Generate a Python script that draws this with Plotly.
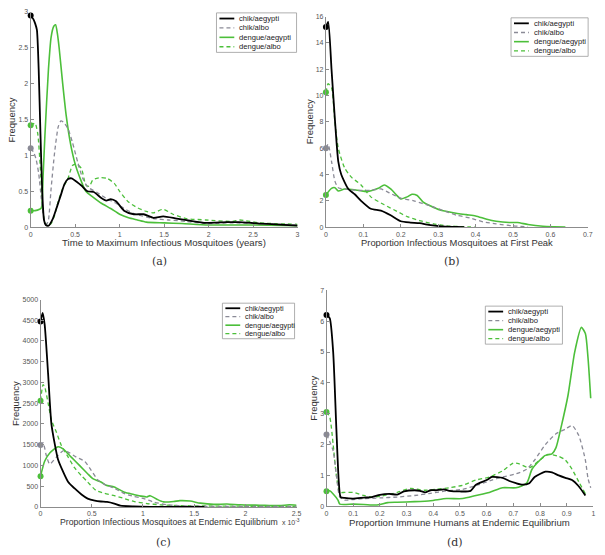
import plotly.graph_objects as go

W, H = 605, 555
OFF = 0  # page body margin is removed by the post script below

SERIES_NAMES = ["chik/aegypti", "chik/albo", "dengue/aegypti", "dengue/albo"]
SERIES_COLORS = ["#000000", "#8a8a96", "#4cbf3a", "#4cbf3a"]
SERIES_DASH = ["solid", "4px,3px", "solid", "4px,3px"]
SERIES_WIDTH = [1.8, 1.3, 1.6, 1.3]

# ---------------- Panel (a): time to maximum infectious mosquitoes (years)
a_chik_aeg_x = [0, 0.03, 0.05, 0.07, 0.09, 0.11, 0.13, 0.15, 0.17, 0.2, 0.25, 0.3, 0.34, 0.38, 0.42, 0.46, 0.52,
                0.57, 0.64, 0.71, 0.79, 0.85, 0.9, 0.96, 1.05, 1.16, 1.27, 1.38, 1.49, 1.64, 1.79, 1.97, 2.2,
                2.34, 2.57, 2.75, 3.0]
a_chik_aeg_y = [2.95, 2.9, 2.84, 2.75, 2.2, 1.3, 0.5, 0.1, 0.03, 0.02, 0.12, 0.3, 0.45, 0.6, 0.67, 0.68, 0.63,
                0.58, 0.5, 0.49, 0.41, 0.37, 0.39, 0.36, 0.23, 0.18, 0.18, 0.13, 0.15, 0.12, 0.09, 0.06, 0.07,
                0.07, 0.05, 0.04, 0.02]
a_chik_albo_x = [0, 0.03, 0.06, 0.09, 0.12, 0.15, 0.18, 0.2, 0.23, 0.27, 0.31, 0.34, 0.37, 0.42, 0.47, 0.53,
                 0.585, 0.64, 0.75, 0.85, 0.95, 1.05, 1.16, 1.38, 1.55, 1.75, 1.97, 2.25, 2.57, 3.0]
a_chik_albo_y = [1.1, 1.05, 0.95, 0.75, 0.4, 0.12, 0.04, 0.1, 0.54, 1.05, 1.4, 1.48, 1.46, 1.37, 1.18, 0.9,
                 0.68, 0.56, 0.48, 0.4, 0.34, 0.26, 0.19, 0.12, 0.1, 0.08, 0.05, 0.06, 0.05, 0.03]
a_deng_aeg_x = [0, 0.05, 0.1, 0.12, 0.14, 0.16, 0.2, 0.23, 0.26, 0.28, 0.3, 0.32, 0.36, 0.4, 0.45, 0.5, 0.55,
                0.62, 0.7, 0.8, 0.9, 1.0, 1.1, 1.2, 1.3, 1.5, 1.7, 2.0, 2.5, 3.0]
a_deng_aeg_y = [0.23, 0.23, 0.25, 0.27, 0.72, 1.27, 2.2, 2.65, 2.8, 2.82, 2.7, 2.5, 2.0, 1.55, 1.15, 0.88, 0.7,
                0.5, 0.42, 0.33, 0.26, 0.18, 0.13, 0.1, 0.07, 0.06, 0.05, 0.03, 0.03, 0.02]
a_deng_albo_x = [0, 0.03, 0.05, 0.08, 0.11, 0.14, 0.17, 0.2, 0.23, 0.27, 0.31, 0.36, 0.42, 0.47, 0.51, 0.57,
                 0.62, 0.66, 0.7, 0.79, 0.86, 0.94, 1.0, 1.1, 1.2, 1.3, 1.38, 1.49, 1.6, 1.75, 1.97, 2.27,
                 2.35, 2.57, 3.0]
a_deng_albo_y = [1.42, 1.44, 1.45, 1.3, 0.8, 0.2, 0.04, 0.02, 0.05, 0.17, 0.36, 0.54, 0.68, 0.86, 0.88, 0.82,
                 0.59, 0.57, 0.66, 0.69, 0.68, 0.61, 0.5, 0.35, 0.27, 0.22, 0.2, 0.25, 0.18, 0.12, 0.1, 0.08,
                 0.1, 0.06, 0.04]

# ---------------- Panel (b): proportion infectious mosquitoes at first peak
b_chik_aeg_x = [0, 0.006, 0.015, 0.024, 0.033, 0.041, 0.06, 0.077, 0.094, 0.12, 0.147, 0.173, 0.2, 0.226,
                0.25, 0.28, 0.31, 0.35, 0.37]
b_chik_aeg_y = [15.2, 15.6, 12.0, 8.2, 5.0, 4.0, 2.9, 2.5, 2.0, 1.4, 1.25, 0.9, 0.45, 0.35, 0.3, 0.15, 0.05,
                0.02, 0.0]
b_chik_albo_x = [0, 0.006, 0.015, 0.024, 0.033, 0.05, 0.085, 0.12, 0.147, 0.17, 0.2, 0.235, 0.28, 0.31, 0.35,
                 0.385, 0.42, 0.455, 0.5, 0.54]
b_chik_albo_y = [6.0, 6.3, 5.0, 3.5, 3.0, 2.9, 2.8, 2.8, 2.9, 2.6, 2.2, 2.0, 1.6, 1.3, 0.9, 0.7, 0.4, 0.25,
                 0.1, 0.02]
b_deng_aeg_x = [0, 0.015, 0.024, 0.033, 0.05, 0.085, 0.11, 0.14, 0.156, 0.173, 0.19, 0.2, 0.217, 0.23, 0.244,
                0.26, 0.28, 0.305, 0.34, 0.375, 0.4, 0.43, 0.455, 0.49, 0.512, 0.54, 0.58, 0.61, 0.64]
b_deng_aeg_y = [2.45, 2.95, 3.0, 2.75, 2.9, 2.8, 2.7, 2.95, 3.2, 2.9, 2.4, 2.15, 2.3, 2.5, 2.4, 1.9, 1.6, 1.3,
                1.1, 0.95, 0.85, 0.6, 0.45, 0.35, 0.35, 0.2, 0.07, 0.03, 0.0]
b_deng_albo_x = [0, 0.006, 0.015, 0.024, 0.033, 0.05, 0.068, 0.094, 0.12, 0.156, 0.19, 0.217, 0.25, 0.288,
                 0.323, 0.367, 0.4]
b_deng_albo_y = [10.25, 10.9, 10.6, 8.0, 6.0, 4.5, 3.8, 3.2, 2.3, 1.7, 1.2, 0.8, 0.5, 0.25, 0.1, 0.03, 0.0]

# ---------------- Panel (c): proportion infectious mosquitoes at endemic equilibrium (x 10^-3)
c_chik_aeg_x = [0, 0.02, 0.04, 0.074, 0.106, 0.14, 0.17, 0.22, 0.27, 0.33, 0.4, 0.46, 0.53, 0.59, 0.65, 0.72,
                0.78, 0.91, 1.07, 1.6]
c_chik_aeg_y = [4470, 4680, 4400, 3200, 2000, 1500, 1150, 850, 600, 450, 300, 200, 150, 130, 120, 80, 30, 10,
                0, 0]
c_chik_albo_x = [0, 0.025, 0.055, 0.09, 0.155, 0.22, 0.27, 0.35, 0.43, 0.49, 0.56, 0.62, 0.72, 0.82, 0.91,
                 1.01, 1.1, 1.24, 1.45, 2.0, 2.5]
c_chik_albo_y = [1490, 1550, 1250, 1030, 1200, 1350, 1320, 1200, 1100, 900, 650, 550, 450, 320, 250, 200, 120,
                 50, 20, 10, 10]
c_deng_aeg_x = [0, 0.04, 0.09, 0.17, 0.22, 0.3, 0.38, 0.46, 0.51, 0.59, 0.64, 0.72, 0.82, 0.91, 0.98, 1.04,
                1.07, 1.14, 1.2, 1.3, 1.36, 1.46, 1.56, 1.69, 1.82, 1.95, 2.14, 2.33, 2.43, 2.5]
c_deng_aeg_y = [740, 1100, 1300, 1450, 1400, 1200, 1000, 800, 680, 600, 520, 480, 350, 300, 260, 240, 270, 180,
                120, 130, 150, 140, 90, 60, 70, 50, 40, 30, 50, 40]
c_deng_albo_x = [0, 0.025, 0.04, 0.074, 0.106, 0.155, 0.2, 0.27, 0.33, 0.4, 0.46, 0.54, 0.62, 0.72, 0.82, 0.91,
                 1.04, 1.17, 1.36, 1.7, 2.5]
c_deng_albo_y = [2560, 2950, 2900, 2500, 2100, 1800, 1500, 1200, 950, 750, 600, 400, 330, 270, 200, 130, 80,
                 50, 30, 20, 10]

# ---------------- Panel (d): proportion immune humans at endemic equilibrium
d_chik_aeg_x = [0, 0.012, 0.025, 0.037, 0.046, 0.053, 0.068, 0.1, 0.14, 0.17, 0.2, 0.235, 0.265, 0.29, 0.33,
                0.35, 0.37, 0.39, 0.41, 0.44, 0.46, 0.5, 0.54, 0.56, 0.6, 0.62, 0.66, 0.685, 0.71, 0.735, 0.76,
                0.78, 0.82, 0.845, 0.87, 0.895, 0.92, 0.945, 0.97]
d_chik_aeg_y = [6.2, 6.1, 5.0, 2.5, 0.8, 0.3, 0.27, 0.25, 0.28, 0.3, 0.37, 0.4, 0.38, 0.48, 0.52, 0.5, 0.45,
                0.52, 0.52, 0.55, 0.5, 0.48, 0.5, 0.7, 0.85, 0.95, 0.92, 0.82, 0.75, 0.7, 0.75, 0.95, 1.12,
                1.1, 1.0, 0.92, 0.85, 0.65, 0.35]
d_chik_albo_x = [0, 0.012, 0.025, 0.037, 0.05, 0.068, 0.1, 0.14, 0.2, 0.265, 0.33, 0.39, 0.45, 0.51, 0.57, 0.62,
                 0.66, 0.71, 0.75, 0.78, 0.82, 0.86, 0.895, 0.92, 0.945, 0.97, 0.98, 0.99]
d_chik_albo_y = [2.33, 2.1, 1.8, 1.0, 0.3, 0.2, 0.22, 0.25, 0.27, 0.3, 0.35, 0.42, 0.5, 0.55, 0.7, 0.85, 0.95,
                 1.05, 1.2, 1.5, 2.0, 2.35, 2.5, 2.62, 2.3, 1.5, 0.9, 0.6]
d_deng_aeg_x = [0, 0.012, 0.025, 0.043, 0.05, 0.1, 0.14, 0.18, 0.2, 0.23, 0.265, 0.33, 0.39, 0.45, 0.51, 0.56,
                0.61, 0.66, 0.71, 0.75, 0.77, 0.8, 0.82, 0.845, 0.86, 0.88, 0.905, 0.93, 0.955, 0.97, 0.98,
                0.99]
d_deng_aeg_y = [0.49, 0.5, 0.4, 0.2, 0.07, 0.07, 0.06, 0.04, 0.06, 0.12, 0.13, 0.15, 0.18, 0.25, 0.25, 0.35,
                0.45, 0.6, 0.6, 0.75, 1.2, 1.5, 1.65, 1.7, 1.9, 2.6, 3.6, 5.0, 5.8, 5.6, 4.8, 3.5]
d_deng_albo_x = [0, 0.012, 0.025, 0.037, 0.05, 0.068, 0.1, 0.14, 0.17, 0.2, 0.265, 0.315, 0.365, 0.41, 0.46,
                 0.51, 0.56, 0.61, 0.66, 0.7, 0.72, 0.76, 0.8, 0.83, 0.87, 0.895, 0.92, 0.945, 0.97]
d_deng_albo_y = [3.06, 2.9, 2.0, 1.0, 0.45, 0.45, 0.45, 0.35, 0.3, 0.32, 0.45, 0.58, 0.52, 0.55, 0.6, 0.68,
                 0.85, 0.95, 1.15, 1.4, 1.38, 1.25, 1.5, 1.68, 1.62, 1.5, 1.2, 0.8, 0.4]

# ---------------- axis setup
a_xticks = [0, 0.5, 1, 1.5, 2, 2.5, 3]
a_yticks = [0, 0.5, 1, 1.5, 2, 2.5, 3]
b_xticks = [0, 0.1, 0.2, 0.3, 0.4, 0.5, 0.6, 0.7]
b_yticks = [0, 2, 4, 6, 8, 10, 12, 14, 16]
c_xticks = [0, 0.5, 1, 1.5, 2, 2.5]
c_yticks = [0, 500, 1000, 1500, 2000, 2500, 3000, 3500, 4000, 4500, 5000]
d_xticks = [0, 0.1, 0.2, 0.3, 0.4, 0.5, 0.6, 0.7, 0.8, 0.9, 1]
d_yticks = [0, 1, 2, 3, 4, 5, 6, 7]

x_titles = ["Time to Maximum Infectious Mosquitoes (years)",
            "Proportion Infectious Mosquitoes at First Peak",
            "Proportion Infectious Mosquitoes at Endemic Equilibrium",
            "Proportion Immune Humans at Endemic Equilibrium"]
captions = ["(a)", "(b)", "(c)", "(d)"]


def px2x(px):
    return (px - OFF) / W


def px2y(py):
    return 1 - (py - OFF) / H


# pixel boxes of the four axes (left, top, right, bottom), in page pixels
boxes = [(29, 8, 299, 226), (327.7, 12.7, 592.7, 226), (39, 299.3, 298, 509.3), (328.3, 290, 598.3, 508.7)]
ranges = [([0, 3], [0, 3]), ([0, 0.7], [0, 16]), ([0, 2.5], [0, 5000]), ([0, 1], [0, 7])]
ticks = [(a_xticks, a_yticks), (b_xticks, b_yticks), (c_xticks, c_yticks), (d_xticks, d_yticks)]
panels = [
    [(a_chik_aeg_x, a_chik_aeg_y), (a_chik_albo_x, a_chik_albo_y), (a_deng_aeg_x, a_deng_aeg_y),
     (a_deng_albo_x, a_deng_albo_y)],
    [(b_chik_aeg_x, b_chik_aeg_y), (b_chik_albo_x, b_chik_albo_y), (b_deng_aeg_x, b_deng_aeg_y),
     (b_deng_albo_x, b_deng_albo_y)],
    [(c_chik_aeg_x, c_chik_aeg_y), (c_chik_albo_x, c_chik_albo_y), (c_deng_aeg_x, c_deng_aeg_y),
     (c_deng_albo_x, c_deng_albo_y)],
    [(d_chik_aeg_x, d_chik_aeg_y), (d_chik_albo_x, d_chik_albo_y), (d_deng_aeg_x, d_deng_aeg_y),
     (d_deng_albo_x, d_deng_albo_y)],
]
legend_boxes = [(217, 9, 298, 49), (515, 14, 593, 53), (223, 303, 296, 339), (489, 306, 567, 344.5)]
legend_font = [7.6, 7.6, 7.3, 7.6]
xtitle_y = [241.5, 241.5, 525, 525]
xtitle_size = [9.6, 9.4, 8.7, 9.6]
ytitle_x = [10, 311, 13, 315]
caption_y = [261, 261, 545, 545]

fig = go.Figure()
layout = dict(width=W, height=H, margin=dict(l=0, r=0, t=0, b=0), paper_bgcolor="white",
              plot_bgcolor="white", showlegend=False,
              font=dict(family="Liberation Sans, Arial, sans-serif", color="#444"))
shapes = []
annotations = []

order = [3, 2, 1, 0]  # dengue drawn first, chik on top
for p in range(4):
    xa = "x" if p == 0 else f"x{p + 1}"
    ya = "y" if p == 0 else f"y{p + 1}"
    xkey = "xaxis" if p == 0 else f"xaxis{p + 1}"
    ykey = "yaxis" if p == 0 else f"yaxis{p + 1}"
    l, t, r, b = boxes[p]
    for s in order:
        xs, ys = panels[p][s]
        fig.add_trace(go.Scatter(x=xs, y=ys, mode="lines", name=SERIES_NAMES[s], xaxis=xa, yaxis=ya,
                                 line=dict(color=SERIES_COLORS[s], width=SERIES_WIDTH[s], dash=SERIES_DASH[s],
                                           shape="spline", smoothing=0.6),
                                 cliponaxis=False, hoverinfo="skip"))
    for s in order:
        xs, ys = panels[p][s]
        fig.add_trace(go.Scatter(x=[xs[0]], y=[ys[0]], mode="markers", xaxis=xa, yaxis=ya,
                                 name=SERIES_NAMES[s],
                                 marker=dict(color=SERIES_COLORS[s], size=6), cliponaxis=False,
                                 hoverinfo="skip"))
    axcommon = dict(showgrid=False, zeroline=False, showline=True, linecolor="#8c8c8c", linewidth=1,
                    ticks="inside", ticklen=3, tickcolor="#8c8c8c", tickfont=dict(size=7, color="#555"),
                    fixedrange=True)
    layout[xkey] = dict(domain=[px2x(l), px2x(r)], range=ranges[p][0], tickvals=ticks[p][0],
                        anchor=ya, **axcommon)
    layout[ykey] = dict(domain=[px2y(b), px2y(t)], range=ranges[p][1], tickvals=ticks[p][1],
                        anchor=xa, **axcommon)
    annotations.append(dict(text=x_titles[p], x=px2x((l + r) / 2), y=px2y(xtitle_y[p]), xref="paper",
                            yref="paper", showarrow=False, font=dict(size=xtitle_size[p], color="#333"),
                            xanchor="center", yanchor="middle"))
    annotations.append(dict(text="Frequency", x=px2x(ytitle_x[p]), y=px2y((t + b) / 2), xref="paper",
                            yref="paper", showarrow=False, textangle=-90, font=dict(size=9.5, color="#333"),
                            xanchor="center", yanchor="middle"))
    annotations.append(dict(text=captions[p], x=px2x((l + r) / 2 - 5), y=px2y(caption_y[p]), xref="paper",
                            yref="paper", showarrow=False,
                            font=dict(size=11, color="#333", family="DejaVu Serif, Liberation Serif, serif"),
                            xanchor="center", yanchor="middle"))
    ll, lt, lr, lb = legend_boxes[p]
    shapes.append(dict(type="rect", xref="paper", yref="paper", x0=px2x(ll), x1=px2x(lr), y0=px2y(lb),
                       y1=px2y(lt), line=dict(color="#9a9a9a", width=0.8), fillcolor="white", layer="above"))
    step = (lb - lt) / 4.2
    for s in range(4):
        yy = lt + step * (s + 0.6)
        shapes.append(dict(type="line", xref="paper", yref="paper", x0=px2x(ll + 3), x1=px2x(ll + 18),
                           y0=px2y(yy), y1=px2y(yy), layer="above",
                           line=dict(color=SERIES_COLORS[s], width=SERIES_WIDTH[s],
                                     dash=SERIES_DASH[s])))
        annotations.append(dict(text=SERIES_NAMES[s], x=px2x(ll + 21), y=px2y(yy), xref="paper",
                                yref="paper", showarrow=False, xanchor="left", yanchor="middle",
                                font=dict(size=legend_font[p], color="#222")))

annotations.append(dict(text="x 10<sup>-3</sup>", x=px2x(281), y=px2y(525), xref="paper", yref="paper",
                        showarrow=False, xanchor="left", yanchor="middle", font=dict(size=7, color="#444")))

layout["shapes"] = shapes
layout["annotations"] = annotations
fig.update_layout(**layout)
fig.write_html("out.html", config={"displayModeBar": False},
               post_script="document.body.style.margin='0';document.body.style.padding='0';")
